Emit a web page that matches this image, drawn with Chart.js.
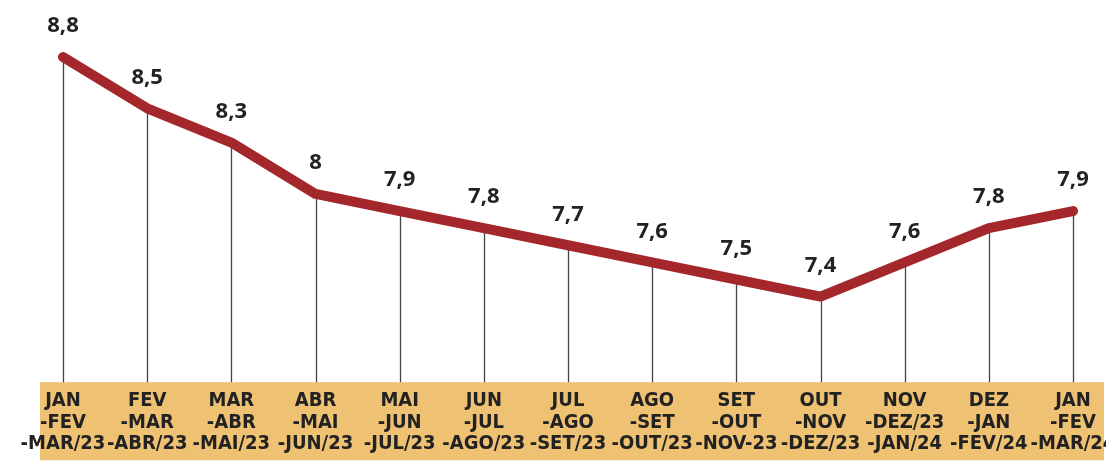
<!DOCTYPE html>
<html><head><meta charset="utf-8">
<script src="https://cdn.jsdelivr.net/npm/chart.js@4/dist/chart.umd.min.js"></script>
<style>html,body{margin:0;padding:0;background:#fff}#wrap{width:1106px;height:465px;position:relative}</style>
</head><body><div id="wrap"><canvas id="c"></canvas></div>
<script>
const categories = [
  ["JAN","-FEV","-MAR/23"],["FEV","-MAR","-ABR/23"],["MAR","-ABR","-MAI/23"],["ABR","-MAI","-JUN/23"],
  ["MAI","-JUN","-JUL/23"],["JUN","-JUL","-AGO/23"],["JUL","-AGO","-SET/23"],["AGO","-SET","-OUT/23"],
  ["SET","-OUT","-NOV-23"],["OUT","-NOV","-DEZ/23"],["NOV","-DEZ/23","-JAN/24"],["DEZ","-JAN","-FEV/24"],
  ["JAN","-FEV","-MAR/24"]
];
const values = [8.8, 8.5, 8.3, 8.0, 7.9, 7.8, 7.7, 7.6, 7.5, 7.4, 7.6, 7.8, 7.9];
const valueLabels = ["8,8","8,5","8,3","8","7,9","7,8","7,7","7,6","7,5","7,4","7,6","7,8","7,9"];

const LINE_COLOR = '#a3272b';
const BAND_COLOR = '#efc173';
const FONT_FAMILY = "'Liberation Sans Narrow','DejaVu Sans Condensed','Roboto Condensed','Open Sans','Noto Sans',sans-serif";

const decor = {
  id: 'decor',
  beforeDraw(chart) {
    const {ctx, chartArea} = chart;
    ctx.save();
    ctx.fillStyle = BAND_COLOR;
    ctx.fillRect(40, chartArea.bottom, chart.width - 42, 78);
    ctx.restore();
  },
  beforeDatasetsDraw(chart) {
    const {ctx, chartArea} = chart;
    const meta = chart.getDatasetMeta(0);
    ctx.save();
    ctx.strokeStyle = '#444';
    ctx.lineWidth = 1.3;
    meta.data.forEach(p => {
      ctx.beginPath();
      ctx.moveTo(Math.round(p.x) + 0.5, p.y);
      ctx.lineTo(Math.round(p.x) + 0.5, chartArea.bottom);
      ctx.stroke();
    });
    ctx.restore();
  },
  afterDatasetsDraw(chart) {
    const {ctx} = chart;
    const meta = chart.getDatasetMeta(0);
    ctx.save();
    ctx.fillStyle = '#222';
    ctx.font = "bold 22px 'Open Sans','Noto Sans',sans-serif";
    ctx.textAlign = 'center';
    ctx.textBaseline = 'middle';
    meta.data.forEach((p, i) => {
      ctx.fillText(valueLabels[i], p.x, p.y - 31);
    });
    ctx.restore();
  }
};

new Chart(document.getElementById('c'), {
  type: 'line',
  data: {
    labels: categories,
    datasets: [{
      data: values,
      borderColor: LINE_COLOR,
      borderWidth: 10,
      borderCapStyle: 'round',
      borderJoinStyle: 'round',
      pointRadius: 0,
      tension: 0,
      fill: false
    }]
  },
  options: {
    responsive: true,
    maintainAspectRatio: false,
    animation: false,
    devicePixelRatio: 1,
    layout: { padding: { left: 63, right: 33, top: 0, bottom: 2 } },
    plugins: { legend: { display: false }, tooltip: { enabled: false } },
    scales: {
      x: {
        offset: false,
        grid: { display: false, drawTicks: false },
        border: { display: false },
        afterFit(scale) { scale.paddingLeft = 0; scale.paddingRight = 0; },
        ticks: {
          autoSkip: false, maxRotation: 0, minRotation: 0, padding: 8,
          color: '#222',
          font: { family: FONT_FAMILY, size: 20, weight: 'bold', lineHeight: 1.08 }
        }
      },
      y: { display: false, min: 6.9, max: 9.133 }
    }
  },
  plugins: [decor]
});
</script>
</body></html>
